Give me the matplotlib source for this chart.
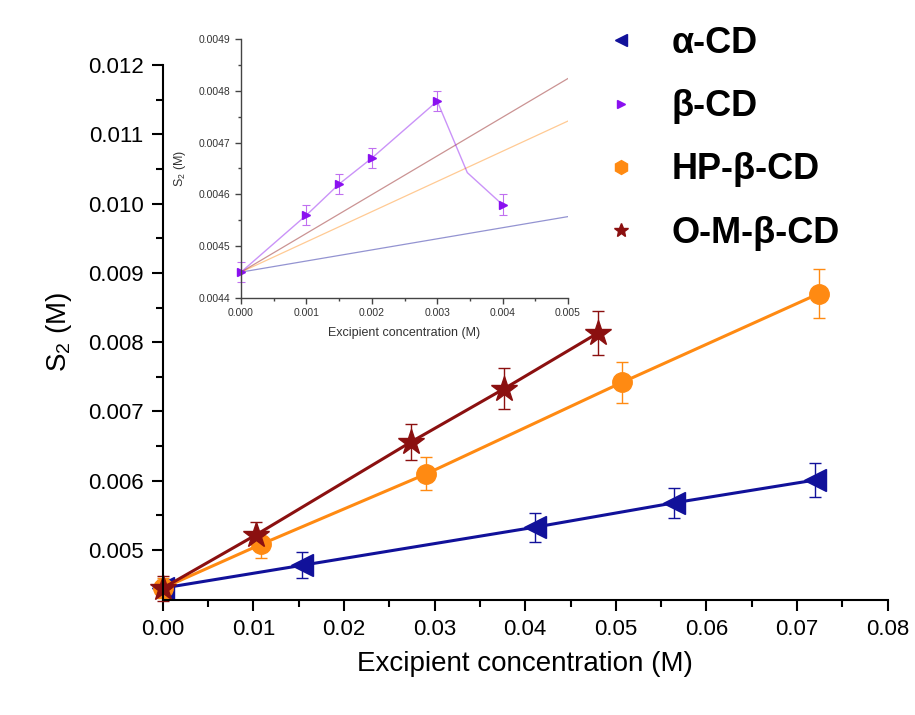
import matplotlib
matplotlib.use("Agg")
import matplotlib.pyplot as plt
from matplotlib.lines import Line2D
from matplotlib.ticker import MultipleLocator, FormatStrFormatter

plt.rcParams["font.family"] = ["Liberation Sans", "DejaVu Sans"]
plt.rcParams["mathtext.default"] = "regular"

# main plot data
alpha_x = [0.0, 0.0154, 0.0411, 0.0564, 0.0720]
alpha_y = [0.00445, 0.00478, 0.00533, 0.00568, 0.00601]
alpha_err = [0.00012, 0.00019, 0.00021, 0.00022, 0.00024]

hp_x = [0.0, 0.0108, 0.0291, 0.0507, 0.0724]
hp_y = [0.00445, 0.00508, 0.00610, 0.00742, 0.00870]
hp_err = [0.00015, 0.00019, 0.00024, 0.00030, 0.00035]

om_x = [0.0, 0.0103, 0.0274, 0.0377, 0.0480]
om_y = [0.00445, 0.00522, 0.00656, 0.00733, 0.00813]
om_err = [0.00018, 0.00019, 0.00026, 0.00029, 0.00032]

# inset data (beta-CD)
beta_x = [0.0, 0.001, 0.0015, 0.002, 0.003, 0.004]
beta_y = [0.00445, 0.00456, 0.00462, 0.00467, 0.00478, 0.00458]
beta_err = [0.00002, 0.00002, 0.00002, 0.00002, 0.00002, 0.00002]
beta_curve_x = [0.0, 0.001, 0.0015, 0.002, 0.003, 0.00346, 0.004]
beta_curve_y = [0.00445, 0.00456, 0.00462, 0.00467, 0.00478, 0.004642, 0.00458]

labels = ["α-CD", "β-CD", "HP-β-CD", "O-M-β-CD"]
c_alpha = "#11119a"
c_beta = "#8a10f0"
c_hp = "#ff8a12"
c_om = "#8b1010"

fig = plt.figure(figsize=(9.15, 7.15), dpi=100)
ax = fig.add_axes([0.178, 0.161, 0.792, 0.748])

series = [
    (alpha_x, alpha_y, alpha_err, c_alpha, "<", 16),
    (hp_x, hp_y, hp_err, c_hp, "o", 14),
    (om_x, om_y, om_err, c_om, "*", 19),
]
for x, y, e, c, m, ms in series:
    ax.errorbar(x, y, yerr=e, color=c, marker=m, markersize=ms, lw=2.2,
                elinewidth=1.0, capsize=4, capthick=1.0, clip_on=False)

ax.set_xlim(0, 0.08)
ax.xaxis.set_major_locator(MultipleLocator(0.01))
ax.xaxis.set_minor_locator(MultipleLocator(0.005))
ax.yaxis.set_minor_locator(MultipleLocator(0.0005))
ax.xaxis.set_major_formatter(FormatStrFormatter("%.2f"))
ax.yaxis.set_major_formatter(FormatStrFormatter("%.3f"))
ax.set_yticks([0.005, 0.006, 0.007, 0.008, 0.009, 0.010, 0.011, 0.012])
ax.set_ylim(0.00428, 0.012)
for s in ["top", "right"]:
    ax.spines[s].set_visible(False)
for s in ["left", "bottom"]:
    ax.spines[s].set_linewidth(1.5)
ax.tick_params(which="major", direction="out", length=8, width=1.5,
               labelsize=16, pad=6)
ax.tick_params(which="minor", direction="out", length=5, width=1.5)
ax.set_xlabel("Excipient concentration (M)", fontsize=20, labelpad=8)
ax.set_ylabel("S$_2$ (M)", fontsize=20, labelpad=10)

# inset
ins = fig.add_axes([0.2634, 0.5832, 0.3574, 0.3623])
ins.set_facecolor("white")
for x, y, e, c, m, ms in series:
    ins.plot(x, y, color=c, lw=0.9, alpha=0.45)
ins.plot(beta_curve_x, beta_curve_y, color=c_beta, lw=1.0, alpha=0.45)
ins.errorbar(beta_x, beta_y, yerr=beta_err, color=c_beta, marker=">",
             markersize=6, ls="none", elinewidth=0.8, capsize=3,
             capthick=0.8, ecolor="#c070f0", clip_on=False)
ins.set_xlim(0, 0.005)
ins.set_ylim(0.0044, 0.0049)
ins.xaxis.set_major_locator(MultipleLocator(0.001))
ins.xaxis.set_minor_locator(MultipleLocator(0.0005))
ins.yaxis.set_major_locator(MultipleLocator(0.0001))
ins.yaxis.set_minor_locator(MultipleLocator(0.00005))
ins.xaxis.set_major_formatter(FormatStrFormatter("%.3f"))
ins.yaxis.set_major_formatter(FormatStrFormatter("%.4f"))
for s in ["top", "right"]:
    ins.spines[s].set_visible(False)
for s in ["left", "bottom"]:
    ins.spines[s].set_linewidth(1.0)
    ins.spines[s].set_color("#444444")
ins.tick_params(which="major", direction="out", length=4, width=1.0,
                labelsize=7.5, colors="#444444", labelcolor="#333333")
ins.tick_params(which="minor", direction="out", length=2.5, width=1.0,
                colors="#444444")
ins.set_xlabel("Excipient concentration (M)", fontsize=9, color="#333333",
               labelpad=6)
ins.set_ylabel("S$_2$ (M)", fontsize=9, color="#333333", labelpad=8)

# legend
handles = [
    Line2D([], [], ls="none", marker="<", color=c_alpha, markersize=9),
    Line2D([], [], ls="none", marker=">", color=c_beta, markersize=6),
    Line2D([], [], ls="none", marker="h", color=c_hp, markersize=10),
    Line2D([], [], ls="none", marker="*", color=c_om, markersize=10),
]
leg = fig.legend(handles, labels, loc="upper left",
                 bbox_to_anchor=(0.623, 1.009), frameon=False,
                 prop={"size": 26, "weight": "bold"}, handlelength=1.0,
                 handletextpad=0.9, labelspacing=0.78)

fig.savefig("out.png", dpi=100, facecolor="white")
